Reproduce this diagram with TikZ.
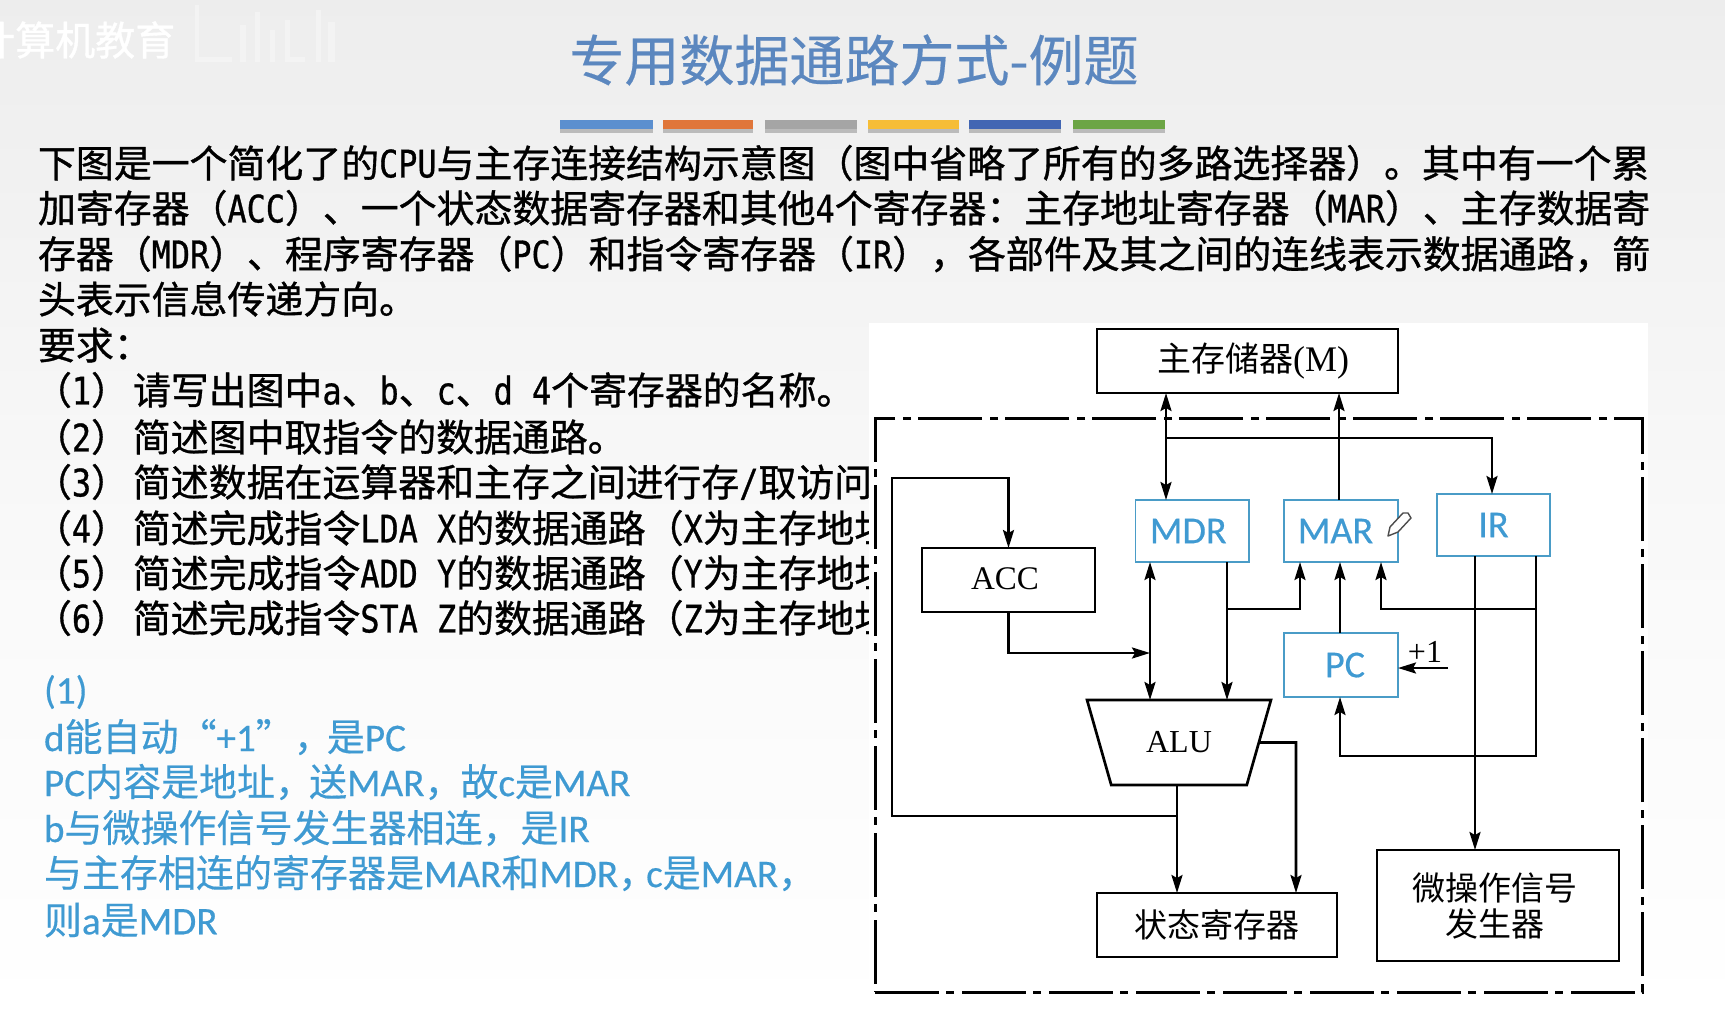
\documentclass[tikz,border=0pt]{standalone}
\usepackage{fontspec}
\usetikzlibrary{arrows.meta,shapes.geometric}
\newfontfamily\heiF[FakeBold=0.9]{Noto Sans CJK SC}
\newfontfamily\regF{Noto Sans CJK SC}
\newfontfamily\medF[FakeBold=0.35]{Noto Sans CJK SC}
\newfontfamily\monoF[FakeStretch=0.84,FakeBold=0.8]{DejaVu Sans Mono}
\newfontfamily\carF[FakeBold=0.4,Scale=1.03]{Carlito}
\newfontfamily\serF{Liberation Serif}
\newcommand{\lt}[1]{{\monoF #1}}
\newcommand{\cb}[1]{{\carF #1}}
\newcommand{\sr}[1]{{\serF #1}}
\newcommand{\fs}[1]{\fontsize{#1}{#1}\selectfont}
\definecolor{ttl}{HTML}{5B87BF}
\definecolor{bluetxt}{HTML}{3F9AD2}
\definecolor{boxblue}{HTML}{4A9CC7}
\tikzset{
  line/.style={line width=2.6pt,black,line cap=butt},
  arr/.style={line,-{Stealth[length=18pt,width=11pt,inset=3pt]}},
  darr/.style={line,{Stealth[length=18pt,width=11pt,inset=3pt]}-{Stealth[length=18pt,width=11pt,inset=3pt]}},
  blk/.style={draw=black,line width=2.7pt,fill=white,inner sep=0pt,outer sep=0pt,font=\regF\fs{33},align=center},
  reg/.style={draw=boxblue,line width=1.8pt,fill=white,inner sep=0pt,outer sep=0pt,font=\carF\fs{37},text=bluetxt},
  qtext/.style={anchor=west,inner sep=0pt,outer sep=0pt,font=\heiF\fs{37.9},text=black},
  atext/.style={anchor=west,inner sep=0pt,outer sep=0pt,font=\medF\fs{38},text=bluetxt},
  bar/.style={inner sep=0pt,outer sep=0pt},
}
\begin{document}
\begin{tikzpicture}[x=1pt,y=-1pt]
\useasboundingbox (0,0) rectangle (1725,1018);
\shade[top color=black!7,bottom color=white,middle color=black!2.5] (0,0) rectangle (1725,1018);

% watermark
\node[anchor=west,inner sep=0pt,font=\heiF\fs{40},text=white] (wm) at (-25,40) {计算机教育};
\foreach \a/\b/\c/\d in {195/5/199/62,199/57/232/62,240/25/246/62,255/12/260/62,270/30/275/62,285/20/290/62,290/57/305/62,316/10/321/62,328/22/335/62}
  \fill[white,opacity=.35] (\a,\b) rectangle (\c,\d);

% title
\node[inner sep=0pt,font=\medF\fs{55},text=ttl] (title) at (854,60) {专用数据通路方式-例题};

% colour bars
\foreach \a/\b/\c in {560/653/5B8FCF,663/753/E0763A,765/857/A5A5A5,868/959/F6BD36,969/1061/4266B3,1073/1165/6CA545}{
  \fill[black,opacity=.22] (\a,128) rectangle (\b,133);
  \definecolor{barc}{HTML}{\c}
  \fill[barc] (\a,120) rectangle (\b,129);
}

% question text
\node[qtext] (q1) at (38,163) {下图是一个简化了的\lt{CPU}与主存连接结构示意图（图中省略了所有的多路选择器）。其中有一个累};
\node[qtext] (q2) at (38,208) {加寄存器（\lt{ACC}）、一个状态数据寄存器和其他\lt{4}个寄存器：主存地址寄存器（\lt{MAR}）、主存数据寄};
\node[qtext] (q3) at (38,254) {存器（\lt{MDR}）、程序寄存器（\lt{PC}）和指令寄存器（\lt{IR}），各部件及其之间的连线表示数据通路，箭};
\node[qtext] (q4) at (38,299) {头表示信息传递方向。};
\node[qtext] (q5) at (38,345) {要求：};
\node[qtext] (r1) at (34,390) {（\lt{1}）\hspace{4pt}请写出图中\lt{a}、\lt{b}、\lt{c}、\lt{d 4}个寄存器的名称。};
\node[qtext] (r2) at (34,437) {（\lt{2}）\hspace{4pt}简述图中取指令的数据通路。};
\node[qtext] (r3) at (34,482) {（\lt{3}）\hspace{4pt}简述数据在运算器和主存之间进行存\lt{/}取访问};
\node[qtext] (r4) at (34,528) {（\lt{4}）\hspace{4pt}简述完成指令\lt{LDA X}的数据通路（\lt{X}为主存地址};
\node[qtext] (r5) at (34,573) {（\lt{5}）\hspace{4pt}简述完成指令\lt{ADD Y}的数据通路（\lt{Y}为主存地址};
\node[qtext] (r6) at (34,618) {（\lt{6}）\hspace{4pt}简述完成指令\lt{STA Z}的数据通路（\lt{Z}为主存地址};

% answers
\node[atext] (a1) at (44,692) {\cb{(1)}};
\node[atext] (a2) at (44,737) {\cb{d}能自动“\cb{+1}”，\hspace{-5pt}是\cb{PC}};
\node[atext] (a3) at (44,782) {\cb{PC}内容是地址，\hspace{-4pt}送\cb{MAR}，\hspace{-2pt}故\cb{c}是\cb{MAR}};
\node[atext] (a4) at (44,828) {\cb{b}与微操作信号发生器相连，是\cb{IR}};
\node[atext] (a5) at (44,873) {与主存相连的寄存器是\cb{MAR}和\cb{MDR}，\hspace{-10pt}\cb{c}是\cb{MAR}，};
\node[atext] (a6) at (44,920) {则\cb{a}是\cb{MDR}};

% white diagram panel
\fill[white] (869,323) rectangle (1648,1010);

% CPU outline
\node[draw=black,line width=3pt,dash pattern=on 64pt off 7pt on 8pt off 8pt,inner sep=0pt,outer sep=0pt,minimum width=767pt,minimum height=574pt] (cpu) at (1258.5,705) {};

% blocks
\node[blk,minimum width=301pt,minimum height=64pt,font=\regF\fs{34}] (mem) at (1247.5,361) {\hspace*{11pt}主存储器\sr{\fontsize{36}{36}\selectfont (M)}};
\node[blk,minimum width=173pt,minimum height=64pt,font=\serF\fs{33}] (acc) at (1008.5,580) {\hspace*{-7pt}\raisebox{2pt}{ACC}};
\node[reg,minimum width=113.5pt,minimum height=62pt] (mdr) at (1192.25,531) {\hspace*{-8pt}MDR};
\node[reg,minimum width=114pt,minimum height=62pt] (mar) at (1341,531) {\hspace*{-11pt}MAR};
\node[reg,minimum width=113pt,minimum height=62pt] (ir) at (1493.5,525) {IR};
\node[reg,minimum width=114pt,minimum height=64pt] (pc) at (1341,665) {\hspace*{8pt}PC};
\node[draw=black,line width=2.7pt,fill=white,inner sep=0pt,outer sep=0pt,trapezium,trapezium angle=61.3,shape border rotate=180,trapezium stretches=true,minimum width=184pt,minimum height=85pt,font=\serF\fs{32}] (alu) at (1179,742.5) {ALU};
\node[blk,minimum width=240pt,minimum height=64pt] (state) at (1217,925) {\raisebox{-2pt}{状态寄存器}};
\node[blk,minimum width=242pt,minimum height=111pt] (micro) at (1498,905.5) {\hspace*{-6pt}微操作信号\\[3pt]\hspace*{-6pt}发生器};
\node[inner sep=0pt,font=\serF\fs{32}] (plus) at (1425,652) {+1};

% routing coordinates
\coordinate (xL) at (1166,438);
\coordinate (xM) at (1339,438);
\coordinate (xI) at (1492,438);
\coordinate (xA) at (1150,653);
\coordinate (xB) at (1227,609);
\coordinate (xC) at (1300,609);
\coordinate (xD) at (1381,609);
\coordinate (xE) at (1536,609);
\coordinate (xF) at (1475,609);
\coordinate (xG) at (1536,756);
\coordinate (xH) at (1340,756);
\coordinate (xP) at (1448,668);
\coordinate (lpT) at (892,478);
\coordinate (lpB) at (892,816);
\coordinate (xO) at (1177,816);
\coordinate (xR) at (1296,742.5);

% connectors
\draw[darr] (xL |- mem.south) -- (xL |- mdr.north);
\draw[arr] (xM |- mar.north) -- (xM |- mem.south);
\draw[arr] (xL) -- (xI) -- (xI |- ir.north);
\draw[darr] (xA |- mdr.south) -- (xA |- alu.north);
\draw[arr] (acc.south) -- (acc.south |- xA) -- (xA);
\draw[arr] (xB |- mdr.south) -- (xB |- alu.north);
\draw[arr] (xB) -- (xC) -- (xC |- mar.south);
\draw[arr] (pc.north -| xH) -- (xH |- mar.south);
\draw[arr] (xP) -- (xP -| pc.east);
\draw[arr] (xF |- ir.south) -- (xF |- micro.north);
\draw[arr] (xE |- ir.south) -- (xG) -- (xH) -- (xH |- pc.south);
\draw[arr] (xE) -- (xD) -- (xD |- mar.south);
\draw[arr] (xO |- alu.south) -- (xO |- state.north);
\draw[arr] (xO) -- (lpB) -- (lpT) -- (lpT -| acc.north) -- (acc.north);
\draw[arr] (alu.east) -- (xR) -- (xR |- state.north);

% pencil mark
\draw[line width=1.4pt,black!70,fill=white,line join=round] (1388,536) -- (1390,527) -- (1403,513) -- (1408,513) -- (1411,518) -- (1398,532) -- cycle;
\end{tikzpicture}
\end{document}
